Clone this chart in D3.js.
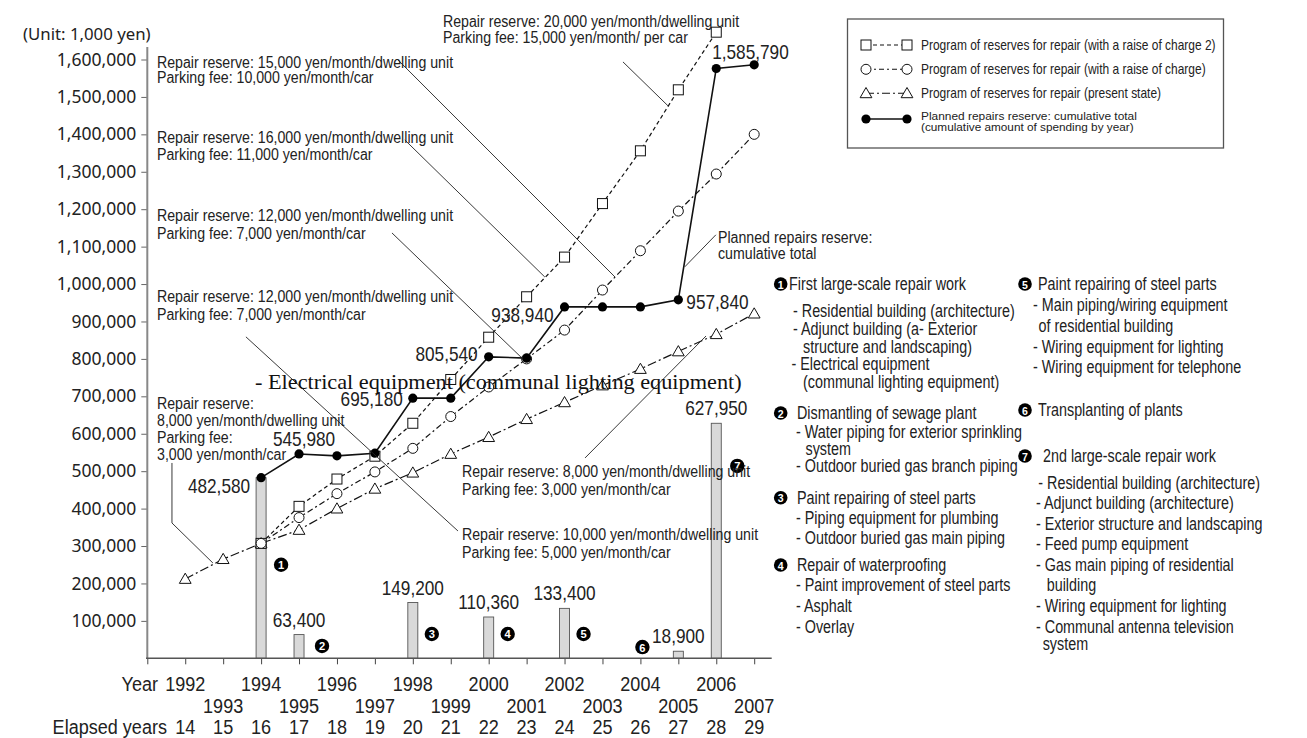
<!DOCTYPE html>
<html><head><meta charset="utf-8">
<script src="https://cdn.jsdelivr.net/npm/d3@7"></script>
<style>
body{margin:0;background:#fff;}
svg{display:block;}
</style></head><body>
<svg id="chart" width="1307" height="738"></svg>
<script>
// ---------------- DATA ----------------
const axisYears = [1991,1992,1993,1994,1995,1996,1997,1998,1999,2000,2001,2002,2003,2004,2005,2006,2007];
const yearLabels = [1992,1993,1994,1995,1996,1997,1998,1999,2000,2001,2002,2003,2004,2005,2006,2007];
const elapsedLabels = [14,15,16,17,18,19,20,21,22,23,24,25,26,27,28,29];
const yTicks = [100000,200000,300000,400000,500000,600000,700000,800000,900000,1000000,1100000,1200000,1300000,1400000,1500000,1600000];

// Program of reserves for repair (with a raise of charge 2) - squares
const raise2Years  = [1994,1995,1996,1997,1998,1999,2000,2001,2002,2003,2004,2005,2006];
const raise2Values = [307000,406000,479000,540000,628000,745000,858000,966000,1072000,1215000,1356000,1519000,1673000];
// Program of reserves for repair (with a raise of charge) - circles
const raiseYears  = [1994,1995,1996,1997,1998,1999,2000,2001,2002,2003,2004,2005,2006,2007];
const raiseValues = [307000,376000,440000,498000,561000,646000,725000,800000,877000,984000,1089000,1195000,1294000,1400000];
// Program of reserves for repair (present state) - triangles
const presentYears  = [1992,1993,1994,1995,1996,1997,1998,1999,2000,2001,2002,2003,2004,2005,2006,2007];
const presentValues = [212000,265000,307000,343000,400000,453000,496000,546000,591000,639000,684000,729000,773000,820000,866000,921000];
// Planned repairs reserve: cumulative total
const cumYears  = [1994,1995,1996,1997,1998,1999,2000,2001,2002,2003,2004,2005,2006,2007];
const cumValues = [482580,545980,541000,548000,695180,695180,805540,802000,938940,938940,938940,957840,1576000,1585790];
const cumLabelYears = [1994,1995,1998,2000,2002,2005,2007];
const cumLabelTexts = ["482,580","545,980","695,180","805,540","938,940","957,840","1,585,790"];
// Annual spending (bars)
const spendYears  = [1994,1995,1998,2000,2002,2005,2006];
const spendValues = [482580,63400,149200,110360,133400,18900,627950];
const spendLabels = ["","63,400","149,200","110,360","133,400","18,900","627,950"];
// Work item markers
const workNumbers = [1,2,3,4,5,6,7];
const workYears   = [1994,1995,1998,2000,2002,2004,2006];

const legendLabels = [
  "Program of reserves for repair (with a raise of charge 2)",
  "Program of reserves for repair (with a raise of charge)",
  "Program of reserves for repair (present state)"
];

// ---------------- LAYOUT ----------------
const NARROW = '"Liberation Sans",Arial,sans-serif';
const SANS = '"Noto Sans","Open Sans",sans-serif';
const SERIF = '"Liberation Serif","Times New Roman",serif';
const NARROW_K = 0.82;

const svg = d3.select("#chart");
const x = d3.scaleLinear().domain([1991, 2007]).range([147.3, 754.2]);
const y = d3.scaleLinear().domain([0, 1600000]).range([658.3, 59.5]);

// bars
svg.append("g").selectAll("rect").data(spendYears.map((d,i)=>({yr:d,v:spendValues[i]})))
  .join("rect")
  .attr("x", d=>x(d.yr)-5).attr("width",10)
  .attr("y", d=>y(d.v)).attr("height", d=>y(0)-y(d.v))
  .attr("fill","#d9d9d9").attr("stroke","#555").attr("stroke-width",0.9);

// axes
const yAxis = d3.axisLeft(y).tickValues(yTicks).tickFormat(d3.format(",")).tickSize(6).tickSizeOuter(0).tickPadding(5);
const gy = svg.append("g").attr("transform","translate(147.3,0)").call(yAxis);
gy.select(".domain").remove();
gy.selectAll(".tick line").attr("stroke","#666").attr("stroke-width",1);
gy.selectAll(".tick text").attr("font-family",SANS).attr("font-size",17.5).attr("fill","#222");
svg.append("line").attr("x1",147.3).attr("x2",147.3).attr("y1",47).attr("y2",y(0)).attr("stroke","#888").attr("stroke-width",2);

const xAxis = d3.axisBottom(x).tickValues(axisYears).tickFormat("").tickSize(6).tickSizeOuter(0);
const gx = svg.append("g").attr("transform",`translate(0,${y(0)})`).call(xAxis);
gx.select(".domain").remove();
gx.selectAll(".tick line").attr("stroke","#444").attr("stroke-width",1);
svg.append("line").attr("x1",146).attr("x2",771.7).attr("y1",y(0)).attr("y2",y(0)).attr("stroke","#555").attr("stroke-width",1.5);

svg.append("text").attr("x",23).attr("y",33).attr("font-family",SANS).attr("font-size",16.8).attr("dominant-baseline","central").attr("fill","#222").text("(Unit: 1,000 yen)");

const xl = svg.append("g").attr("font-family",NARROW).attr("font-size",21).attr("fill","#222").attr("text-anchor","middle");
xl.append("text").attr("class","nr").attr("data-k",0.86).attr("x",158).attr("y",683).attr("text-anchor","end").attr("dominant-baseline","central").text("Year");
xl.selectAll(".yl").data(yearLabels).join("text").attr("class","yl nr").attr("data-k",0.86)
  .attr("x",d=>x(d)).attr("y",d=>d%2===0?683:705).attr("dominant-baseline","central").text(d=>d);
xl.append("text").attr("class","nr").attr("data-k",0.86).attr("x",167).attr("y",727).attr("text-anchor","end").attr("dominant-baseline","central").text("Elapsed years");
xl.selectAll(".el").data(elapsedLabels).join("text").attr("class","el nr").attr("data-k",0.86)
  .attr("x",(d,i)=>x(yearLabels[i])).attr("y",727).attr("dominant-baseline","central").text(d=>d);

// series lines
const line = d3.line().x(d=>x(d[0])).y(d=>y(d[1]));
const zip = (a,b)=>a.map((d,i)=>[d,b[i]]);
const sq = zip(raise2Years, raise2Values), ci = zip(raiseYears, raiseValues), tr = zip(presentYears, presentValues), cu = zip(cumYears, cumValues);
svg.append("path").attr("d",line(tr)).attr("fill","none").attr("stroke","#111").attr("stroke-width",1.2).attr("stroke-dasharray","9,3,2,3");
svg.append("path").attr("d",line(ci)).attr("fill","none").attr("stroke","#111").attr("stroke-width",1.2).attr("stroke-dasharray","6,3,2,3");
svg.append("path").attr("d",line(sq)).attr("fill","none").attr("stroke","#111").attr("stroke-width",1.2).attr("stroke-dasharray","4,3");
svg.append("path").attr("d",line(cu)).attr("fill","none").attr("stroke","#111").attr("stroke-width",1.6);

const triPath = d3.symbol().type(d3.symbolTriangle).size(60);
function drawTri(g, px, py){ g.append("path").attr("d",triPath()).attr("transform",`translate(${px},${py+1})`).attr("fill","#fff").attr("stroke","#111").attr("stroke-width",1); }
function drawSq(g, px, py){ g.append("rect").attr("x",px-5).attr("y",py-5).attr("width",10).attr("height",10).attr("fill","#fff").attr("stroke","#111").attr("stroke-width",1); }
function drawCi(g, px, py){ g.append("circle").attr("cx",px).attr("cy",py).attr("r",5).attr("fill","#fff").attr("stroke","#111").attr("stroke-width",1); }
function drawDot(g, px, py){ g.append("circle").attr("cx",px).attr("cy",py).attr("r",4.6).attr("fill","#000"); }

const mk = svg.append("g");
tr.forEach(d=>drawTri(mk, x(d[0]), y(d[1])));
sq.forEach(d=>drawSq(mk, x(d[0]), y(d[1])));
ci.forEach(d=>drawCi(mk, x(d[0]), y(d[1])));
cu.forEach(d=>drawDot(mk, x(d[0]), y(d[1])));

// leader lines (data coordinates: [year, value])
const leaders = [
  [[1997.61,1598700],[2003.33,1018800]],
  [[1997.79,1385000],[2001.48,1018800]],
  [[1997.45,1136600],[2000.9,800000]],
  [[1993.6,858900],[1999.19,340200]],
  [[1991.65,521900],[1991.65,361600],[1992.73,254600]],
  [[2002.54,535300],[2005.73,861200]],
  [[2003.54,1593600],[2004.73,1476000]],
  [[2005.99,1131600],[2005.17,1046000]]
];
leaders.forEach(l=>svg.append("path").attr("d",line(l)).attr("fill","none").attr("stroke","#222").attr("stroke-width",0.9));

// value labels for cumulative line
const cumLabelLayout = { // [dx, dy, anchor]
  1994:[-11,8,"end"],1995:[5,-15,"middle"],1998:[-10,1,"end"],2000:[-11,-3,"end"],
  2002:[-11,8,"end"],2005:[8,2,"start"],2007:[-42,-13,"start"]
};
const vl = svg.append("g").attr("font-family",NARROW).attr("font-size",21).attr("fill","#222");
cumLabelYears.forEach((yr,i)=>{
  const v = cumValues[cumYears.indexOf(yr)], L = cumLabelLayout[yr];
  vl.append("text").attr("class","nr").attr("x",x(yr)+L[0]).attr("y",y(v)+L[1]).attr("text-anchor",L[2]).attr("dominant-baseline","central").text(cumLabelTexts[i]);
});
spendYears.forEach((yr,i)=>{
  if(!spendLabels[i]) return;
  vl.append("text").attr("class","nr").attr("x",x(yr)).attr("y",y(spendValues[i])-15).attr("text-anchor","middle").attr("dominant-baseline","central").text(spendLabels[i]);
});

// numbered circles
function bullet(g, cx, cy, n, r){
  g.append("circle").attr("cx",cx).attr("cy",cy).attr("r",r).attr("fill","#000");
  g.append("text").attr("x",cx).attr("y",cy+0.5).attr("text-anchor","middle").attr("dominant-baseline","central")
    .attr("font-family",'"Liberation Sans","Arial",sans-serif').attr("font-weight","bold").attr("font-size",r*1.55).attr("fill","#fff").text(n);
}
const workLayout = {1:[20,250000],2:[23,33000],3:[19,65000],4:[19,65000],5:[19,65000],6:[2,30000],7:[21,514000]};
workNumbers.forEach((n,i)=>bullet(svg, x(workYears[i])+workLayout[n][0], y(workLayout[n][1]), n, 7.2));

// annotations
const notes = [
  [157,61.5,15.6,["Repair reserve: 15,000 yen/month/dwelling unit","Parking fee: 10,000 yen/month/car"]],
  [157,137,17,["Repair reserve: 16,000 yen/month/dwelling unit","Parking fee: 11,000 yen/month/car"]],
  [157,215,18,["Repair reserve: 12,000 yen/month/dwelling unit","Parking fee: 7,000 yen/month/car"]],
  [157,296,17.5,["Repair reserve: 12,000 yen/month/dwelling unit","Parking fee: 7,000 yen/month/car"]],
  [157,403,17,["Repair reserve:","8,000 yen/month/dwelling unit","Parking fee:","3,000 yen/month/car"]],
  [462,471,17.5,["Repair reserve: 8,000 yen/month/dwelling unit","Parking fee: 3,000 yen/month/car"]],
  [462,533.5,18,["Repair reserve: 10,000 yen/month/dwelling unit","Parking fee: 5,000 yen/month/car"]],
  [443,20.5,16.5,["Repair reserve: 20,000 yen/month/dwelling unit","Parking fee: 15,000 yen/month/ per car"]],
  [718,237,16.5,["Planned repairs reserve:","cumulative total"]]
];
const ng = svg.append("g").attr("font-family",NARROW).attr("font-size",17.3).attr("fill","#222");
notes.forEach(n=>{
  n[3].forEach((t,j)=>ng.append("text").attr("class","nr").attr("x",n[0]).attr("y",n[1]+j*n[2]).attr("dominant-baseline","central").text(t));
});
svg.append("text").attr("class","fit").attr("data-w",487).attr("x",255).attr("y",382).attr("font-family",SERIF).attr("font-size",22).attr("dominant-baseline","central").attr("fill","#111")
  .text("- Electrical equipment (communal lighting equipment)");

// right-hand work list
const listHeads = [
  [780.7,284,789,"First large-scale repair work",1],
  [780.7,413,797,"Dismantling of sewage plant",2],
  [780.7,497.7,797,"Paint repairing of steel parts",3],
  [780.7,565,797,"Repair of waterproofing",4],
  [1025,284,1038,"Paint repairing of steel parts",5],
  [1025,410,1038,"Transplanting of plants",6],
  [1025,456,1043,"2nd large-scale repair work",7]
];
const listLines = [
  [793,311,"- Residential building (architecture)"],
  [793,329,"- Adjunct building (a- Exterior"],
  [803,347,"structure and landscaping)"],
  [791.5,364,"- Electrical equipment"],
  [803,382,"(communal lighting equipment)"],
  [796,432,"- Water piping for exterior sprinkling"],
  [805.5,448.5,"system"],
  [796,466,"- Outdoor buried gas branch piping"],
  [796,518,"- Piping equipment for plumbing"],
  [796,538,"- Outdoor buried gas main piping"],
  [796,585,"- Paint improvement of steel parts"],
  [796,606,"- Asphalt"],
  [796,627,"- Overlay"],
  [1033,305,"- Main piping/wiring equipment"],
  [1038.5,326,"of residential building"],
  [1033,347,"- Wiring equipment for lighting"],
  [1033,367,"- Wiring equipment for telephone"],
  [1038.3,483,"- Residential building (architecture)"],
  [1036,503,"- Adjunct building (architecture)"],
  [1036,524,"- Exterior structure and landscaping"],
  [1036,544,"- Feed pump equipment"],
  [1036,565,"- Gas main piping of residential"],
  [1046.7,585,"building"],
  [1036,606,"- Wiring equipment for lighting"],
  [1036,627,"- Communal antenna television"],
  [1042.7,644,"system"]
];
const lg = svg.append("g").attr("font-family",NARROW).attr("font-size",17.5).attr("fill","#222");
listHeads.forEach(h=>{
  bullet(svg,h[0],h[1],h[4],6.8);
  lg.append("text").attr("class","nr").attr("x",h[2]).attr("y",h[1]).attr("dominant-baseline","central").text(h[3]);
});
listLines.forEach(l=>lg.append("text").attr("class","nr").attr("x",l[0]).attr("y",l[1]).attr("dominant-baseline","central").text(l[2]));

// legend
const leg = svg.append("g");
leg.append("rect").attr("x",847.5).attr("y",19).attr("width",376).attr("height",129).attr("fill","#fff").attr("stroke","#555").attr("stroke-width",1.3);
const legRows = [45,69.3,93.3,119];
const dashes = ["4,3","5,3,2,3","8,3,2,3",null];
const drawers = [drawSq, drawCi, drawTri, drawDot];
legRows.forEach((ly,i)=>{
  const p = leg.append("line").attr("x1",866).attr("x2",907).attr("y1",ly).attr("y2",ly).attr("stroke","#111").attr("stroke-width",i===3?1.6:1.1);
  if(dashes[i]) p.attr("stroke-dasharray",dashes[i]);
  drawers[i](leg,866,ly); drawers[i](leg,907,ly);
});
const lt = leg.append("g").attr("font-family",NARROW).attr("font-size",14.6).attr("fill","#222");
legendLabels.forEach((t,i)=>lt.append("text").attr("class","nr").attr("x",921).attr("y",legRows[i]).attr("dominant-baseline","central").text(t));
lt.append("text").attr("class","fit").attr("data-w",216).attr("x",921).attr("y",115.8).attr("font-size",11.5).attr("dominant-baseline","central")
  .text("Planned repairs reserve: cumulative total");
lt.append("text").attr("class","fit").attr("data-w",213).attr("x",921).attr("y",126.8).attr("font-size",11.5).attr("dominant-baseline","central")
  .text("(cumulative amount of spending by year)");

// emulate a narrow typeface by scaling Liberation Sans horizontally (anchor point kept in place)
function squeeze(el, k){
  const x0 = +el.getAttribute("x");
  el.setAttribute("x", 0);
  el.setAttribute("transform", `translate(${x0},0) scale(${k},1)`);
}
svg.selectAll("text.nr").each(function(){ squeeze(this, +(this.getAttribute("data-k") || NARROW_K)); });
svg.selectAll("text.fit").each(function(){
  const L = this.getComputedTextLength();
  squeeze(this, (+this.getAttribute("data-w"))/L);
});
</script>
</body></html>
